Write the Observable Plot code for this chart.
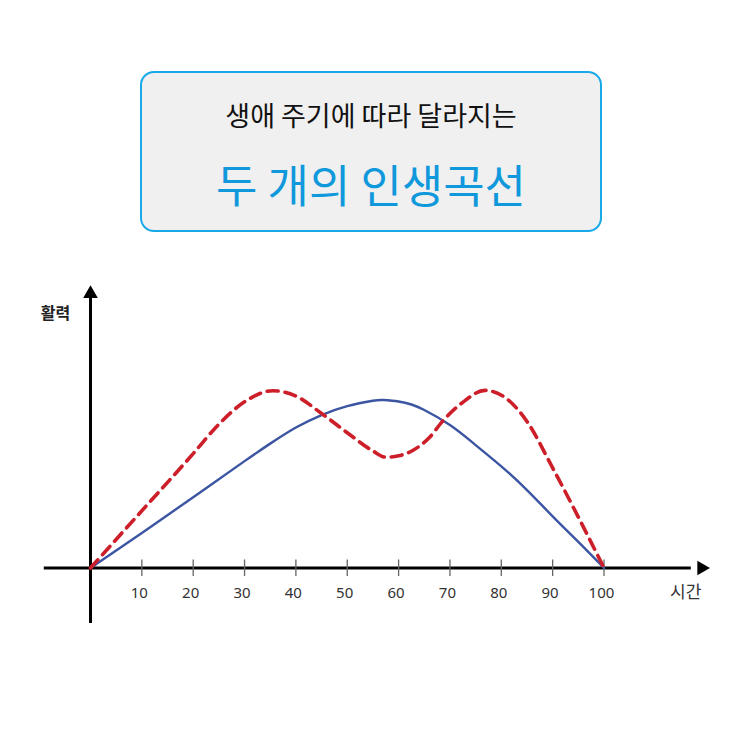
<!DOCTYPE html>
<html>
<head>
<meta charset="utf-8">
<script src="https://cdn.jsdelivr.net/npm/d3@7"></script>
<script src="https://cdn.jsdelivr.net/npm/@observablehq/plot@0.6"></script>
<style>
  html, body { margin: 0; padding: 0; background: #fff; }
  body { width: 743px; height: 743px; overflow: hidden; font-family: "Noto Sans CJK KR", "Noto Sans", sans-serif; }
  #head { position: relative; height: 260px; }
  #box {
    position: absolute; left: 140px; top: 71px; width: 458px; height: 157px;
    border: 2.5px solid #18a9e9; border-radius: 14px; background: #f0f0f0;
  }
  #t1 { position: absolute; left: 0; right: 0; top: 28px; text-align: center; font-size: 27px; color: #111; line-height: 1; }
  #t2 { position: absolute; left: 0; right: 0; top: 88px; text-align: center; font-size: 45px; color: #0f98dc; line-height: 1; }
  #chart svg { display: block; }
</style>
</head>
<body>
<div id="head">
  <div id="box">
    <div id="t1">생애 주기에 따라 달라지는</div>
    <div id="t2">두 개의 인생곡선</div>
  </div>
</div>
<div id="chart"></div>
<script>
// Data (time 0-100, vitality in arbitrary units, max ≈ 100)
const blueTime  = [0, 10, 20, 30, 35, 40, 45, 50, 55, 57, 60, 62.5, 65, 70, 75, 80, 85, 90, 95, 100];
const blueValue = [0, 19.6, 39.6, 59.8, 69.6, 78.6, 85.6, 90.6, 93.6, 94, 93.2, 91.5, 88.4, 80, 68.8, 56.9, 43.6, 28.9, 14.6, 0];

const redTime  = [0, 10, 20, 25, 30, 35.5, 40, 45, 50, 55, 57.5, 60, 63, 66, 68.5, 72.4, 76.8, 80.8, 85, 90, 95, 100];
const redValue = [0, 32, 64, 80.5, 93, 99.2, 96.2, 86.5, 75.7, 65.5, 62, 62.8, 66.2, 73, 81.9, 92.5, 99.4, 95.3, 82, 56, 28.5, 0];

const tickValues = [10, 20, 30, 40, 50, 60, 70, 80, 90, 100];
const xLabel = "시간";
const yLabel = "활력";

const blue = blueTime.map((t, i) => ({t, v: blueValue[i]}));
const red = redTime.map((t, i) => ({t, v: redValue[i]}));

const chart = Plot.plot({
  width: 743,
  height: 483,
  margin: 0,
  x: {domain: [0, 100], range: [90, 603.5], axis: null},
  y: {domain: [0, 100], range: [307.5, 128.8], axis: null},
  style: {fontFamily: "'Noto Sans CJK KR', 'Noto Sans', sans-serif", background: "#fff"},
  marks: [
    // axes
    Plot.ruleY([0], {x1: -9, x2: 117, stroke: "#000", strokeWidth: 3}),
    Plot.ruleX([0], {y1: -31, y2: 152, stroke: "#000", strokeWidth: 3}),
    Plot.dot([{t: 119, v: 0}], {x: "t", y: "v", symbol: "triangle2", r: 7, fill: "#000", stroke: null, rotate: 90}),
    Plot.dot([{t: 0, v: 153.5}], {x: "t", y: "v", symbol: "triangle2", r: 7, fill: "#000", stroke: null, rotate: 0}),
    Plot.ruleX(tickValues, {y1: -4.8, y2: 4.5, stroke: "#666", strokeWidth: 1.3}),
    Plot.text(tickValues, {x: d => d - 0.5, y: -14.3, text: d => String(d), fontSize: 15, fill: "#333", fontFamily: "'Noto Sans', sans-serif"}),
    Plot.text([xLabel], {x: 115.9, y: -14, text: d => d, fontSize: 17, fill: "#333"}),
    Plot.text([yLabel], {x: -6.8, y: 142.4, text: d => d, fontSize: 16, fontWeight: "bold", fill: "#222"}),
    // curves
    Plot.line(blue, {x: "t", y: "v", curve: "natural", stroke: "#3b55a2", strokeWidth: 2.4}),
    Plot.line(red, {x: "t", y: "v", curve: "monotone-x", stroke: "#cc1f29", strokeWidth: 3.6, strokeDasharray: "11,7"})
  ]
});
document.getElementById("chart").appendChild(chart);
</script>
</body>
</html>
